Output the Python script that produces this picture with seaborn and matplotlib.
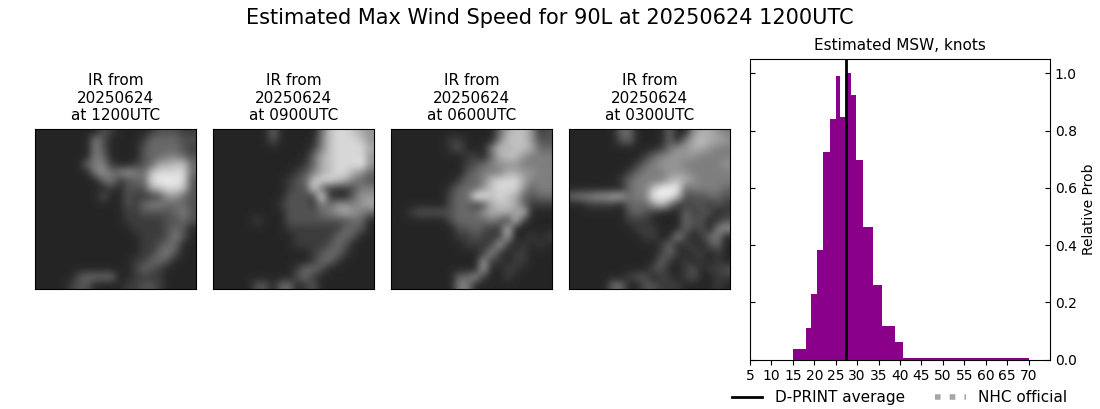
#!/usr/bin/env python3
"""Estimated max wind speed panel for 90L: four IR thumbnails and a histogram."""

import matplotlib
matplotlib.use("Agg")
import matplotlib.pyplot as plt
import numpy as np
import pandas as pd
import seaborn as sns

# Histogram bins (knots)
bin_edges = [15, 18, 19.2, 20.6, 22, 23.6, 25, 26, 27.4, 28.5, 29.7, 31.3,
             33.7, 35.8, 38.8, 40.7, 70]
rel_prob = [0.036, 0.11, 0.228, 0.382, 0.725, 0.84, 0.99, 0.847, 1.0, 0.924,
            0.697, 0.463, 0.26, 0.117, 0.06, 0.005]
dprint_avg = 27.4
wind_ticks = list(range(5, 75, 5))
prob_ticks = [0.0, 0.2, 0.4, 0.6, 0.8, 1.0]

times = ["1200UTC", "0900UTC", "0600UTC", "0300UTC"]
date_str = "20250624"

# Coarse brightness, 0 = dark sea, 9 = cold tops
ir_1200 = [
    "00000000210000122211",
    "00000004200001333322",
    "00000004200002333321",
    "00000004300002334432",
    "00000034410012366773",
    "00000004534543788883",
    "00000000341233899982",
    "00000000010222678872",
    "00000000200211125532",
    "00000000000213443332",
    "00000000000112222342",
    "00000000000111112232",
    "00000000000011112320",
    "00000000000001112420",
    "00000000000001123300",
    "00000000000001134200",
    "00000000000011332000",
    "00000000000013210000",
    "00000233330011110000",
    "00001220000112210000",
]
ir_0900 = [
    "00000003000003788765",
    "00000002000004788875",
    "00000000000014788886",
    "00000000000036788885",
    "00000000000136788895",
    "00000000001246788653",
    "00000000012378876432",
    "00000000012283111244",
    "00000000022219100355",
    "00000000122214355456",
    "00000000022223456543",
    "00000100022222222330",
    "00000000011111113320",
    "00000000001111133200",
    "00000000001111232000",
    "00000000000012331000",
    "00000000000013310000",
    "00000000001332000000",
    "00000000002310000000",
    "00000220330120000000",
]
ir_0600 = [
    "00000000000003677512",
    "00000001100004777522",
    "00000001200047677633",
    "00000000011036775444",
    "00000000012345554444",
    "00000000023444665544",
    "00000000133478886444",
    "00000001333578885344",
    "00000002339978763233",
    "00000002331267763111",
    "00122222333566657000",
    "00000002333343171000",
    "00000000223211700000",
    "00000000112111600101",
    "00000000011116101010",
    "00000000000151011000",
    "00000000000511011000",
    "00000000000600110000",
    "00000000335100100000",
    "00000000440000000000",
]
ir_0300 = [
    "00000033000030056654",
    "00000023000030467665",
    "00000000000135566544",
    "00000000013455554444",
    "00000000134555444445",
    "00000001344455544444",
    "00000013444467654444",
    "00000003447999344443",
    "34455663449997222332",
    "00111103335741122121",
    "00000002321000312201",
    "00000001110000322012",
    "00000000111000312045",
    "00000000011005101340",
    "00000000000130110230",
    "00000000000131011010",
    "00000000000310101010",
    "00000000002200120112",
    "00000001220110120011",
    "00000330022111000010",
]
ir_panels = [ir_1200, ir_0900, ir_0600, ir_0300]
panel_left_px = [35.3, 213.3, 391.3, 569.3]

W, H = 1100, 409


def px_axes(fig, left, top, width, height):
    # axes placed by pixel position, measured from the top left
    return fig.add_axes([left / W, 1 - (top + height) / H, width / W, height / H])


fig = plt.figure(figsize=(W / 100, H / 100), dpi=100)

for rows, stamp, left in zip(ir_panels, times, panel_left_px):
    ax = px_axes(fig, left, 129, 160.4, 160.4)
    grid = np.array([[int(c) for c in row] for row in rows])
    ax.imshow(grid, cmap="gray", vmin=-1.7, vmax=9.8, interpolation="bicubic")
    ax.set_xticks([])
    ax.set_yticks([])
    ax.set_title(f"IR from\n{date_str}\nat {stamp}", fontsize=11, pad=6.5)

ax = px_axes(fig, 750, 59, 300, 300.5)
hist_df = pd.DataFrame({"wind": bin_edges[:-1], "prob": rel_prob})
sns.histplot(data=hist_df, x="wind", weights="prob", bins=bin_edges, color="darkmagenta",
             alpha=1, linewidth=0, ax=ax)
line_avg = ax.axvline(dprint_avg, color="black", linewidth=2, label="D-PRINT average")
line_nhc, = ax.plot([], [], color="gray", alpha=0.7, linewidth=4, linestyle=":", label="NHC official")
ax.set_xlim(5, 75)
ax.set_ylim(0, 1.05)
ax.set_xticks(wind_ticks)
ax.set_yticks(prob_ticks)
ax.tick_params(left=True, right=True, labelleft=False, labelright=True, labelsize=10)
ax.tick_params(axis="y", direction="in")
ax.yaxis.set_label_position("right")
ax.set_xlabel("")
ax.set_ylabel("Relative Prob", fontsize=10)
ax.set_title("Estimated MSW, knots", fontsize=11, pad=6.5)

fig.legend(handles=[line_avg, line_nhc], loc="center", bbox_to_anchor=(899.5 / W, 1 - 397.5 / H),
           ncol=2, frameon=False, fontsize=11)
fig.suptitle(f"Estimated Max Wind Speed for 90L at {date_str} 1200UTC", fontsize=15,
             x=550 / W, y=1 - 18 / H, va="center")

fig.savefig("out.png", dpi=100)
